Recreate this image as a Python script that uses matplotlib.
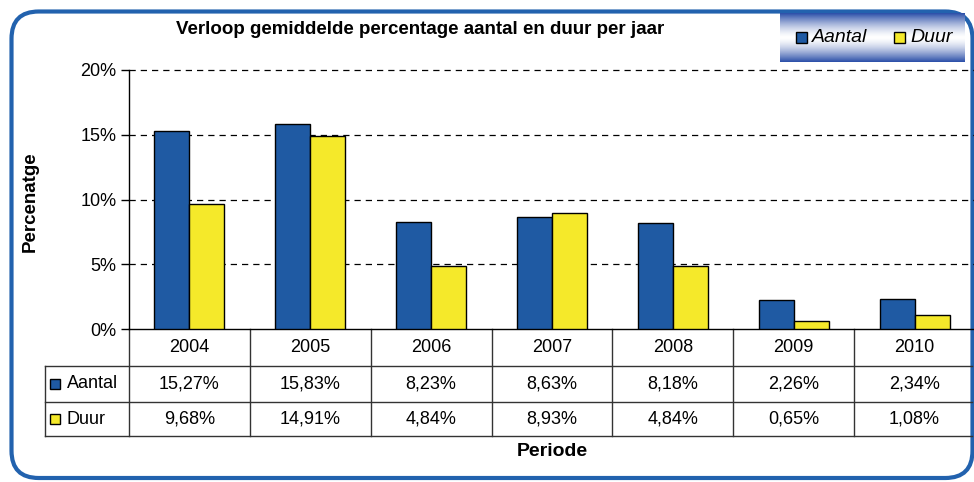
import matplotlib
matplotlib.use("Agg")
import matplotlib.pyplot as plt
import numpy as np
from matplotlib.patches import FancyBboxPatch, Rectangle
import matplotlib.transforms as mtransforms

years = ["2004", "2005", "2006", "2007", "2008", "2009", "2010"]
aantal = [15.27, 15.83, 8.23, 8.63, 8.18, 2.26, 2.34]
duur = [9.68, 14.91, 4.84, 8.93, 4.84, 0.65, 1.08]
series_names = ["Aantal", "Duur"]
yticks = [0, 5, 10, 15, 20]
title = "Verloop gemiddelde percentage aantal en duur per jaar"
ylabel = "Percenatge"
xlabel = "Periode"

BLUE = "#1F5AA3"
YELLOW = "#F5E92A"
FRAME = "#2262AE"

W, H = 974, 482
plt.rcParams['font.family'] = ['Liberation Sans', 'DejaVu Sans']
fig = plt.figure(figsize=(W / 100, H / 100), dpi=100)

def fx(px):
    return px / W

def fy(py):
    return 1 - py / H

# Rounded frame
frame = FancyBboxPatch((fx(11.5), fy(478)), fx(972.5) - fx(11.5), fy(11.5) - fy(478),
                       boxstyle="round,pad=0,rounding_size=0.028",
                       transform=fig.transFigure, facecolor="white",
                       edgecolor=FRAME, linewidth=3, zorder=-5,
                       mutation_aspect=W / H)
fig.patches.append(frame)

# Main axes
left, right, top, bottom = 129, 975, 70, 329
ax = fig.add_axes([fx(left), fy(bottom), fx(right) - fx(left), fy(top) - fy(bottom)])
ax.set_facecolor("none")
x = np.arange(len(years))
bw = 0.29
ax.bar(x - bw / 2, aantal, bw, color=BLUE, edgecolor="black", linewidth=1, zorder=3)
ax.bar(x + bw / 2, duur, bw, color=YELLOW, edgecolor="black", linewidth=1, zorder=3)
ax.set_xlim(-0.5, len(years) - 0.5)
ax.set_ylim(0, 20)
ax.set_yticks(yticks)
ax.set_yticklabels([f"{t}%" for t in yticks], fontsize=13)
ax.tick_params(axis="y", direction="out", length=6, width=1, pad=3)
ax.set_xticks([])
for t in yticks[1:]:
    ax.axhline(t, color="black", linestyle=(0, (5, 4)), linewidth=0.9, zorder=1, clip_on=False)
for s in ["top", "right"]:
    ax.spines[s].set_visible(False)
ax.spines["left"].set_linewidth(1)
ax.spines["bottom"].set_linewidth(1)

# Table below axes (blended transform: data x, figure y)
trans = mtransforms.blended_transform_factory(ax.transData, fig.transFigure)
row_lines = [329, 366, 402, 436]
lc = "#333333"
for i in range(len(years)):
    xe = i - 0.5
    ax.plot([xe, xe], [fy(row_lines[0]), fy(row_lines[-1])], transform=trans,
            color=lc, lw=1, clip_on=False)
ftrans = fig.transFigure
for yy in row_lines[1:]:
    fig.add_artist(plt.Line2D([fx(45), fx(972)], [fy(yy), fy(yy)], color=lc, lw=1, transform=ftrans))
fig.add_artist(plt.Line2D([fx(45), fx(45)], [fy(366), fy(436)], color=lc, lw=1, transform=ftrans))

for i, yr in enumerate(years):
    ax.text(i, fy(348), yr, transform=trans, ha="center", va="center", fontsize=13)
    ax.text(i, fy(384), f"{aantal[i]:.2f}%".replace(".", ","), transform=trans,
            ha="center", va="center", fontsize=13)
    ax.text(i, fy(419), f"{duur[i]:.2f}%".replace(".", ","), transform=trans,
            ha="center", va="center", fontsize=13)

# row legends
for yy, name, col in [(384, series_names[0], BLUE), (419, series_names[1], YELLOW)]:
    fig.patches.append(Rectangle((fx(50), fy(yy + 5)), 10 / W, 10 / H,
                                 transform=ftrans, facecolor=col, edgecolor="black", lw=1))
    fig.text(fx(67), fy(yy), name, ha="left", va="center", fontsize=13)

# Title and labels
fig.text(fx(420), fy(29), title, ha="center", va="center", fontsize=13.5, fontweight="bold")
fig.text(fx(30), fy(202), ylabel, ha="center", va="center", rotation=90, fontsize=13.5, fontweight="bold")
fig.text(fx(552), fy(452), xlabel, ha="center", va="center", fontsize=14, fontweight="bold")

# Legend box with gradient
lx0, lx1, ly0, ly1 = 780, 965, 13, 62
lax = fig.add_axes([fx(lx0), fy(ly1), fx(lx1) - fx(lx0), fy(ly0) - fy(ly1)])
t = np.linspace(0, 1, 200)
g = np.abs(t - 0.5) * 2
g = g ** 1.5
c_dark = np.array([0x2A, 0x4E, 0xA8]) / 255
c_white = np.array([1, 1, 1])
img = (c_white[None, :] * (1 - g[:, None]) + c_dark[None, :] * g[:, None])
lax.imshow(img[:, None, :], aspect="auto", extent=[0, 1, 0, 1])
lax.set_xlim(0, 1)
lax.set_ylim(0, 1)
lax.axis("off")
for px, name, col in [(796, series_names[0], BLUE), (894, series_names[1], YELLOW)]:
    fig.patches.append(Rectangle((fx(px), fy(43)), 11 / W, 11 / H,
                                 transform=ftrans, facecolor=col, edgecolor="black", lw=1, zorder=5))
    fig.text(fx(px + 16), fy(38), name, ha="left", va="center", fontsize=14, style="italic", zorder=5)

fig.savefig("out.png", dpi=100)
